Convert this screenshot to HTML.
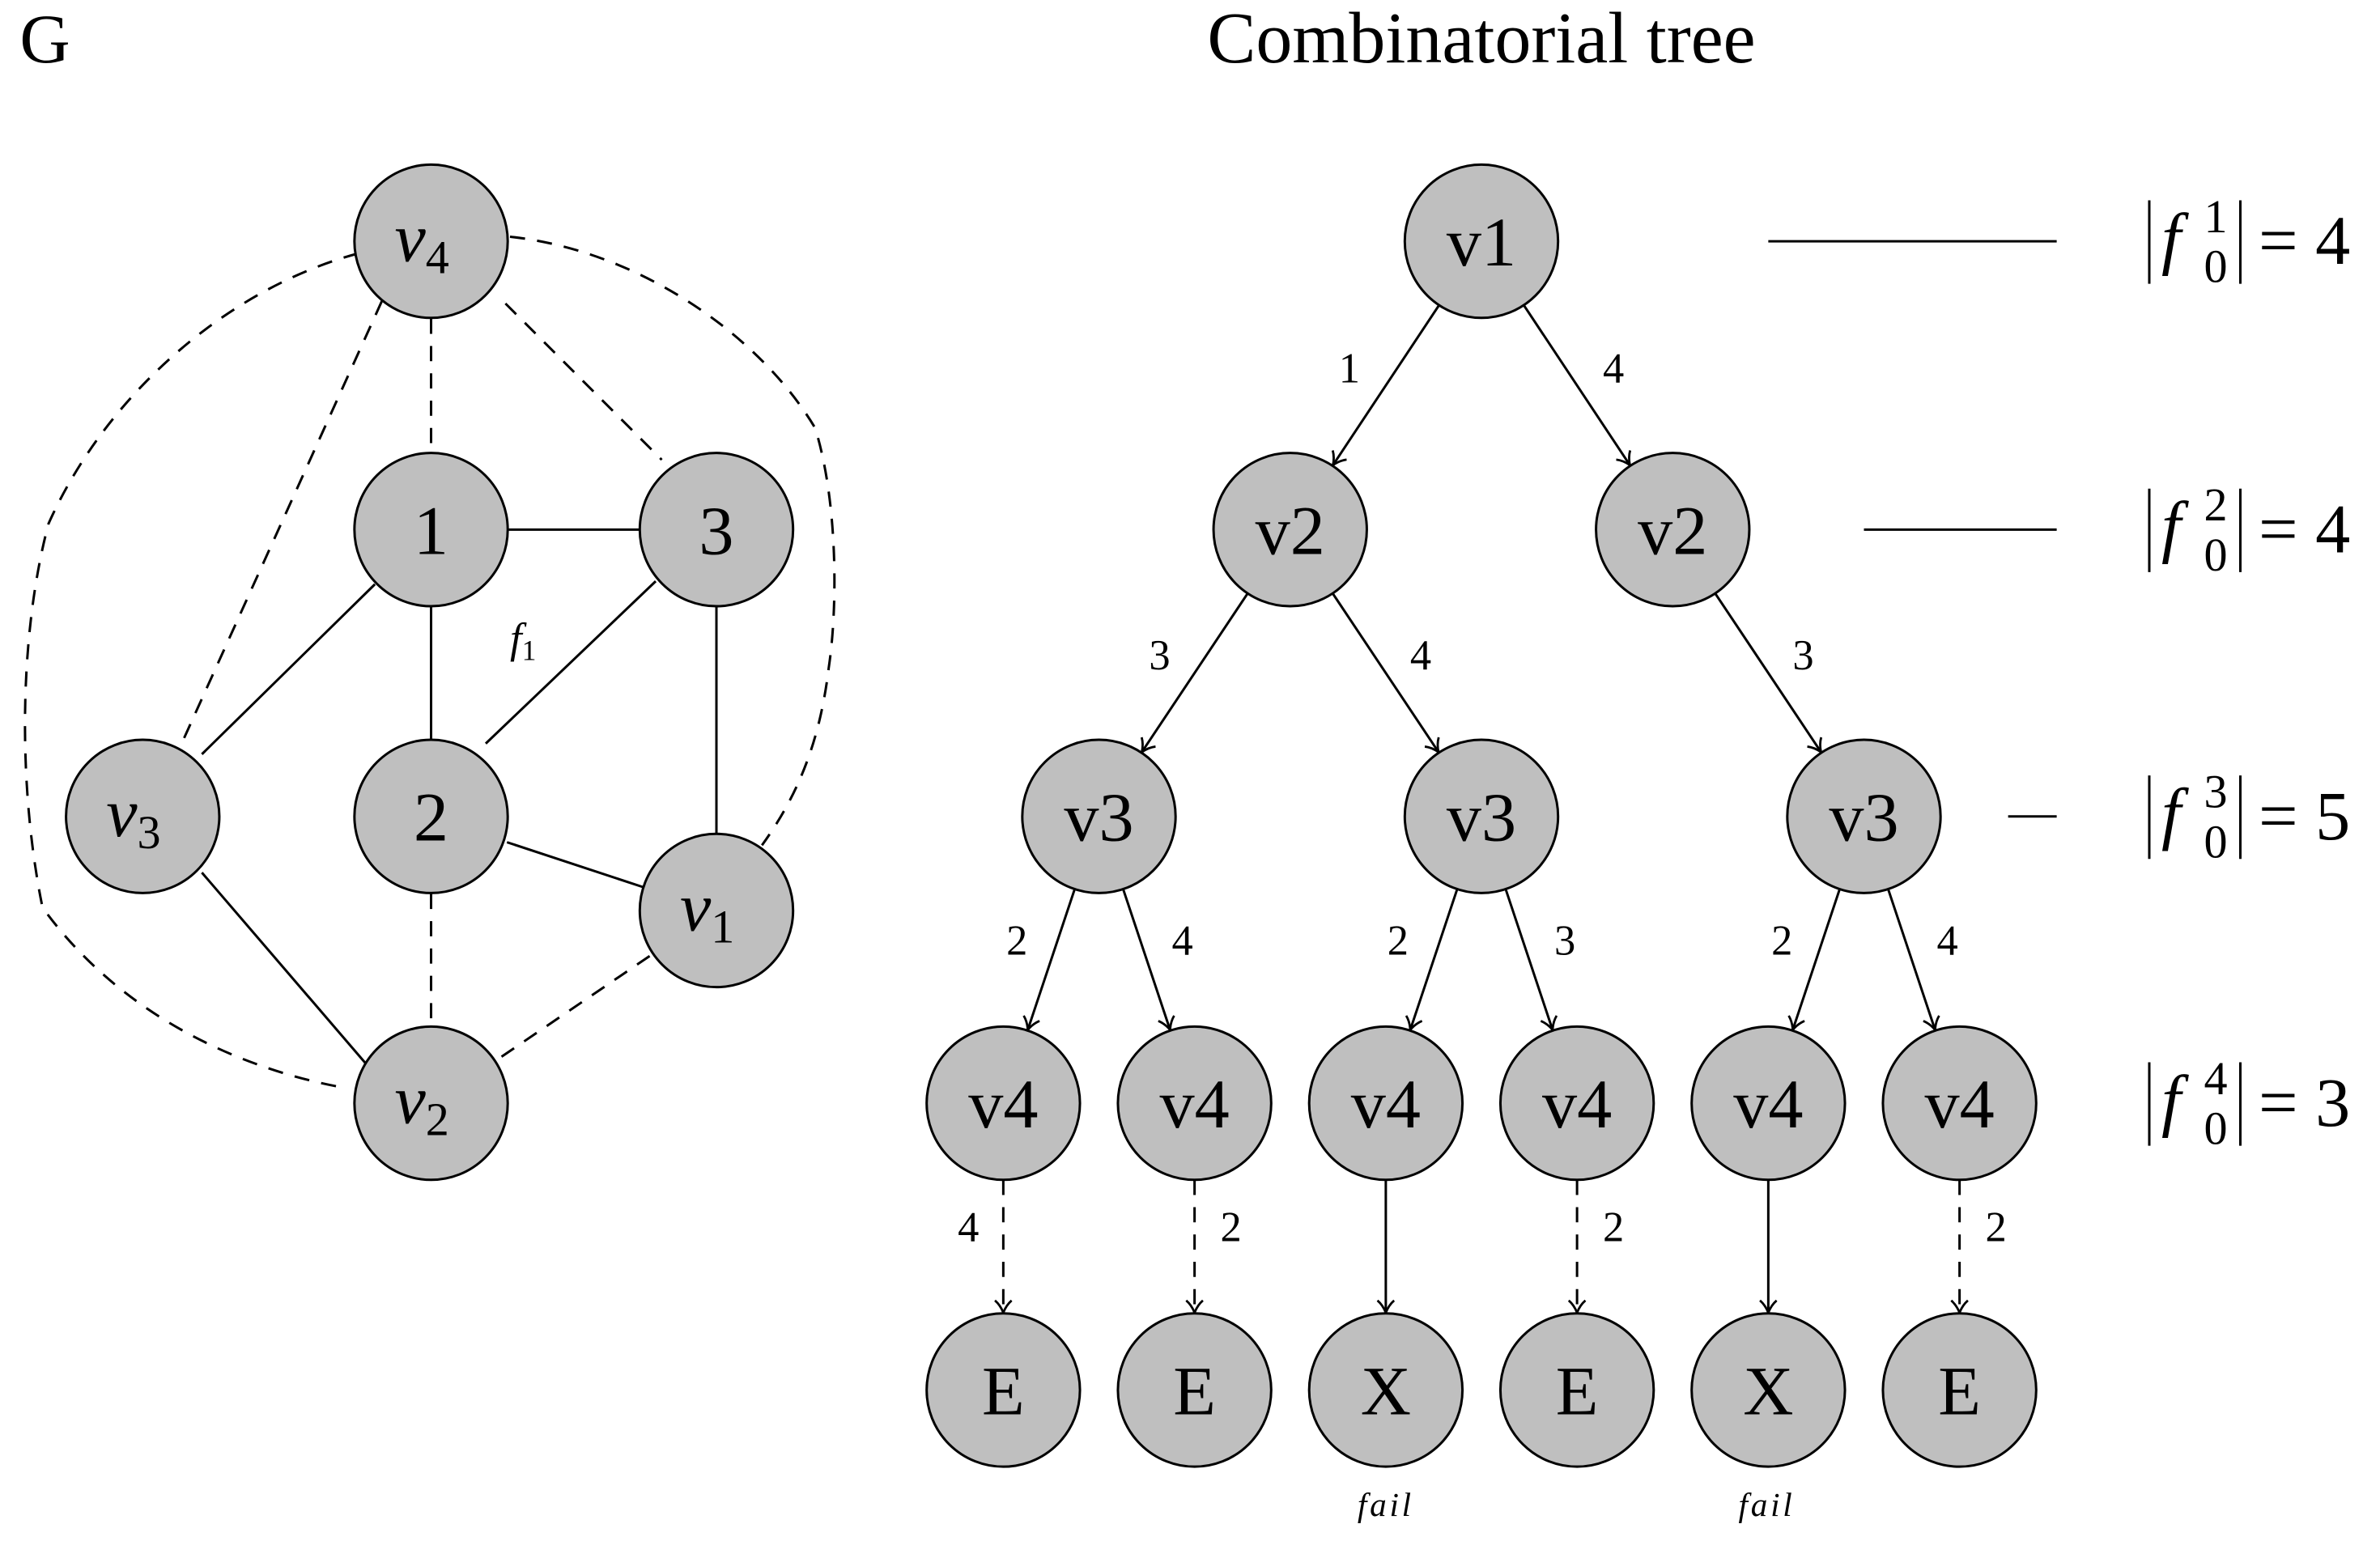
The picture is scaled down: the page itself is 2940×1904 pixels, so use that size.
<!DOCTYPE html>
<html><head><meta charset="utf-8"><style>
html,body{margin:0;padding:0;background:#fff;}
svg{display:block;}
text{font-family:"Liberation Serif",serif;fill:#000;}
</style></head><body>
<svg id="s" xmlns="http://www.w3.org/2000/svg" width="2940" height="1904" viewBox="0 0 1568 1015.47">
<defs>
<marker id="ar" markerWidth="14" markerHeight="14" refX="10" refY="6" orient="auto" markerUnits="userSpaceOnUse">
<path d="M2,0.5 Q5,4 10,6 Q5,8 2,11.5" fill="none" stroke="#000" stroke-width="1.5"/>
</marker>
</defs>
<text x="13" y="41" font-size="46">G</text>
<text x="976" y="41" font-size="48" text-anchor="middle">Combinatorial tree</text>

<g stroke="#000" stroke-width="1.6" fill="none">
<g stroke-dasharray="10,8">
<path d="M236,167 C150,190 70,260 32,345 C12,420 12,520 28,598 C80,670 160,705 228,717"/>
<path d="M336,156 C420,165 500,220 537,282 C552,330 552,400 546,440 C540,490 525,525 502,557"/>
<line x1="333" y1="200" x2="436" y2="303"/>
<line x1="259" y1="182" x2="121" y2="487"/>
<line x1="284" y1="210" x2="284" y2="298"/>
<line x1="284" y1="589" x2="284" y2="676"/>
<line x1="428" y1="630" x2="328" y2="698"/>
</g>
<line x1="335" y1="349" x2="421" y2="349"/>
<line x1="284" y1="400" x2="284" y2="487"/>
<line x1="247" y1="385" x2="133" y2="497"/>
<line x1="432" y1="383" x2="320" y2="490"/>
<line x1="472" y1="400" x2="472" y2="549"/>
<line x1="334" y1="555" x2="425" y2="585"/>
<line x1="133" y1="575" x2="248" y2="709"/>
<line x1="1165" y1="159" x2="1355" y2="159"/>
<line x1="1228" y1="349" x2="1355" y2="349"/>
<line x1="1323" y1="538" x2="1355" y2="538"/>
</g>
<g fill="#bfbfbf" stroke="#000" stroke-width="1.6">
<circle cx="284" cy="159" r="50.5"/>
<circle cx="284" cy="349" r="50.5"/>
<circle cx="472" cy="349" r="50.5"/>
<circle cx="94" cy="538" r="50.5"/>
<circle cx="284" cy="538" r="50.5"/>
<circle cx="472" cy="600" r="50.5"/>
<circle cx="284" cy="727" r="50.5"/>
</g>
<g font-size="46">
<text x="260" y="172"><tspan font-style="italic">v</tspan><tspan font-size="31" dy="8">4</tspan></text>
<text x="284" y="365" text-anchor="middle">1</text>
<text x="472" y="365" text-anchor="middle">3</text>
<text x="70" y="551"><tspan font-style="italic">v</tspan><tspan font-size="31" dy="8">3</tspan></text>
<text x="284" y="554" text-anchor="middle">2</text>
<text x="448" y="613"><tspan font-style="italic">v</tspan><tspan font-size="31" dy="8">1</tspan></text>
<text x="260" y="740"><tspan font-style="italic">v</tspan><tspan font-size="31" dy="8">2</tspan></text>
</g>
<text x="336" y="430" font-size="28"><tspan font-style="italic">f</tspan><tspan font-size="19" dy="5">1</tspan></text>

<g id="tree"></g>

<g id="eqs" font-size="44"></g>
</svg>
<script>
var NS="http://www.w3.org/2000/svg",T=document.getElementById("tree");
var R=50.5;
var nodes={
a:[976,159,"v1"],b:[850,349,"v2"],c:[1102,349,"v2"],
d:[724,538,"v3"],e:[976,538,"v3"],f:[1228,538,"v3"],
g:[661,727,"v4"],h:[787,727,"v4"],i:[913,727,"v4"],j:[1039,727,"v4"],k:[1165,727,"v4"],l:[1291,727,"v4"],
m:[661,916,"E"],n:[787,916,"E"],o:[913,916,"X"],p:[1039,916,"E"],q:[1165,916,"X"],r:[1291,916,"E"]};
var edges=[["a","b",0,"1",889,242],["a","c",0,"4",1063,242],
["b","d",0,"3",764,431],["b","e",0,"4",936,431],["c","f",0,"3",1188,431],
["d","g",0,"2",670,619],["d","h",0,"4",779,619],["e","i",0,"2",921,619],["e","j",0,"3",1031,619],
["f","k",0,"2",1174,619],["f","l",0,"4",1283,619],
["g","m",1,"4",638,808],["h","n",1,"2",811,808],["i","o",0,"",0,0],["j","p",1,"2",1063,808],["k","q",0,"",0,0],["l","r",1,"2",1315,808]];
function el(t,a,p){var e=document.createElementNS(NS,t);for(var k in a)e.setAttribute(k,a[k]);(p||T).appendChild(e);return e;}
edges.forEach(function(E){var A=nodes[E[0]],B=nodes[E[1]];var dx=B[0]-A[0],dy=B[1]-A[1],L=Math.hypot(dx,dy),ux=dx/L,uy=dy/L;
var at={x1:A[0]+ux*R,y1:A[1]+uy*R,x2:B[0]-ux*(R+0.5),y2:B[1]-uy*(R+0.5),stroke:"#000","stroke-width":1.6,"marker-end":"url(#ar)"};
if(E[2])at["stroke-dasharray"]="10,8";el("line",at);
if(E[3]){var t=el("text",{x:E[4],y:E[5]+10,"font-size":28,"text-anchor":"middle"});t.textContent=E[3];}});
for(var k in nodes){var N=nodes[k];el("circle",{cx:N[0],cy:N[1],r:R,fill:"#bfbfbf",stroke:"#000","stroke-width":1.6});
var t=el("text",{x:N[0],y:N[1]+16,"font-size":46,"text-anchor":"middle"});t.textContent=N[2];}
[913,1164].forEach(function(x){var t=el("text",{x:x,y:999,"font-size":22,"font-style":"italic","text-anchor":"middle","letter-spacing":"2"});t.textContent="fail";});
var EQ=document.getElementById("eqs");
[[159,"1","4"],[349,"2","4"],[538,"3","5"],[727,"4","3"]].forEach(function(q){var y=q[0];
el("line",{x1:1416,y1:y-27,x2:1416,y2:y+28,stroke:"#000","stroke-width":1.6},EQ);
el("line",{x1:1476,y1:y-27,x2:1476,y2:y+28,stroke:"#000","stroke-width":1.6},EQ);
var t=el("text",{x:1424,y:y+13,"font-size":46,"font-style":"italic"},EQ);t.textContent="f";
t=el("text",{x:1452,y:y-6,"font-size":31},EQ);t.textContent=q[1];
t=el("text",{x:1452,y:y+27,"font-size":31},EQ);t.textContent="0";
t=el("text",{x:1488,y:y+15,"font-size":46},EQ);t.textContent="= "+q[2];});
</script>
</body></html>
